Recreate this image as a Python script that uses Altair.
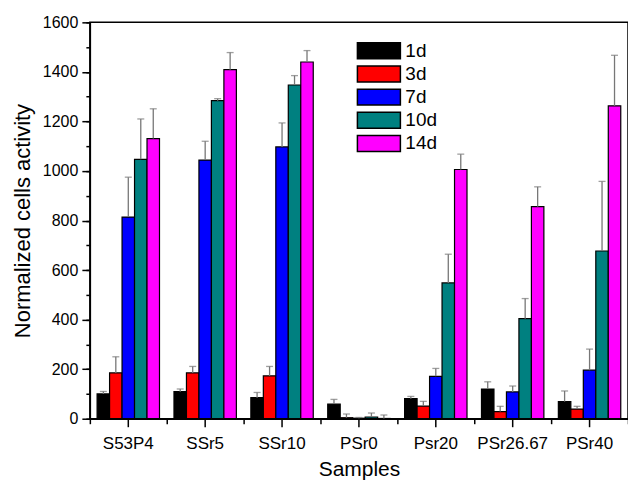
import altair as alt
import pandas as pd

samples = ["S53P4", "SSr5", "SSr10", "PSr0", "Psr20", "PSr26.67", "PSr40"]
days = ["1d", "3d", "7d", "10d", "14d"]
colors = ["#000000", "#ff0000", "#0000ff", "#008080", "#ff00ff"]

v_1d = [100, 109, 85, 59, 81, 120, 69]
v_3d = [185, 185, 173, 4, 51, 29, 39]
v_7d = [814, 1044, 1097, 2, 171, 108, 196]
v_10d = [1047, 1284, 1347, 7, 548, 404, 677]
v_14d = [1131, 1409, 1440, 1, 1006, 856, 1263]

e_1d = [10, 11, 21, 19, 9, 29, 43]
e_3d = [65, 26, 38, 15, 19, 21, 11]
e_7d = [161, 76, 97, 3, 32, 24, 85]
e_10d = [163, 8, 38, 16, 116, 81, 281]
e_14d = [120, 69, 46, 14, 62, 80, 204]

major_y = list(range(0, 1601, 200))
minor_y = list(range(0, 1601, 100))

values = [v_1d, v_3d, v_7d, v_10d, v_14d]
errors = [e_1d, e_3d, e_7d, e_10d, e_14d]

rows = []
for d, vals, errs in zip(days, values, errors):
    for s, v, e in zip(samples, vals, errs):
        rows.append({"Sample": s, "Day": d, "Value": v, "Top": v + e})
df = pd.DataFrame(rows)

FONT = "Liberation Sans"

x_scale = alt.Scale(domain=samples, paddingInner=0, paddingOuter=0)
off_scale = alt.Scale(domain=days, paddingInner=0, paddingOuter=0.58)
y_scale = alt.Scale(domain=[0, 1600], nice=False)

base = alt.Chart(df)

bars = base.mark_bar(stroke="black", strokeWidth=1.2).encode(
    x=alt.X("Sample:N", scale=x_scale, sort=samples,
            axis=alt.Axis(title="Samples", labelAngle=0, tickSize=8, labelFontSize=17,
                          labelPadding=9, titleFontSize=21, titlePadding=7,
                          titleFontWeight="normal", orient="bottom")),
    xOffset=alt.XOffset("Day:N", scale=off_scale, sort=days),
    y=alt.Y("Value:Q", scale=y_scale,
            axis=alt.Axis(title="Normalized cells activity", values=major_y, format="d",
                          tickSize=8, labelFontSize=16, labelPadding=4, titleFontSize=22,
                          titleFontWeight="normal", titlePadding=8, grid=False,
                          orient="left")),
    fill=alt.Fill("Day:N", scale=alt.Scale(domain=days, range=colors), sort=days,
                  legend=alt.Legend(title=None, orient="none", legendX=280, legendY=19,
                                    symbolType="M-2.69,-1H2.69V1H-2.69Z", symbolSize=256,
                                    symbolStrokeColor="black", symbolStrokeWidth=1.5,
                                    labelFontSize=19, labelOffset=17, rowPadding=0.2,
                                    padding=0, labelFont=FONT)),
)

err_rules = base.mark_rule(color="#777777", strokeWidth=1.3).encode(
    x=alt.X("Sample:N", scale=x_scale, sort=samples, axis=None),
    xOffset=alt.XOffset("Day:N", scale=off_scale, sort=days),
    y=alt.Y("Value:Q", scale=y_scale, axis=None),
    y2="Top:Q",
)

err_caps = base.mark_tick(color="#777777", size=7, thickness=1.3).encode(
    x=alt.X("Sample:N", scale=x_scale, sort=samples,
            axis=alt.Axis(title=None, labels=False, domain=False, tickBand="extent",
                          tickSize=5, orient="bottom")),
    xOffset=alt.XOffset("Day:N", scale=off_scale, sort=days),
    y=alt.Y("Top:Q", scale=y_scale,
            axis=alt.Axis(title=None, labels=False, domain=False, values=minor_y,
                          tickSize=4, orient="left", grid=False)),
)

chart = alt.layer(bars, err_rules, err_caps).resolve_axis(
    x="independent", y="independent"
).properties(
    width=539, height=397,
    autosize=alt.AutoSizeParams(type="none"),
    padding={"left": 90, "top": 22, "right": 0, "bottom": 61},
).configure_view(stroke="black", strokeWidth=1.5).configure_axis(
    domainColor="black", domainWidth=1.5, tickColor="black", tickWidth=1.5,
    labelColor="black", titleColor="black", labelFont=FONT, titleFont=FONT,
).configure_legend(labelFont=FONT, labelColor="black")

chart.save("out.html", embed_options={"renderer": "svg", "actions": False})
